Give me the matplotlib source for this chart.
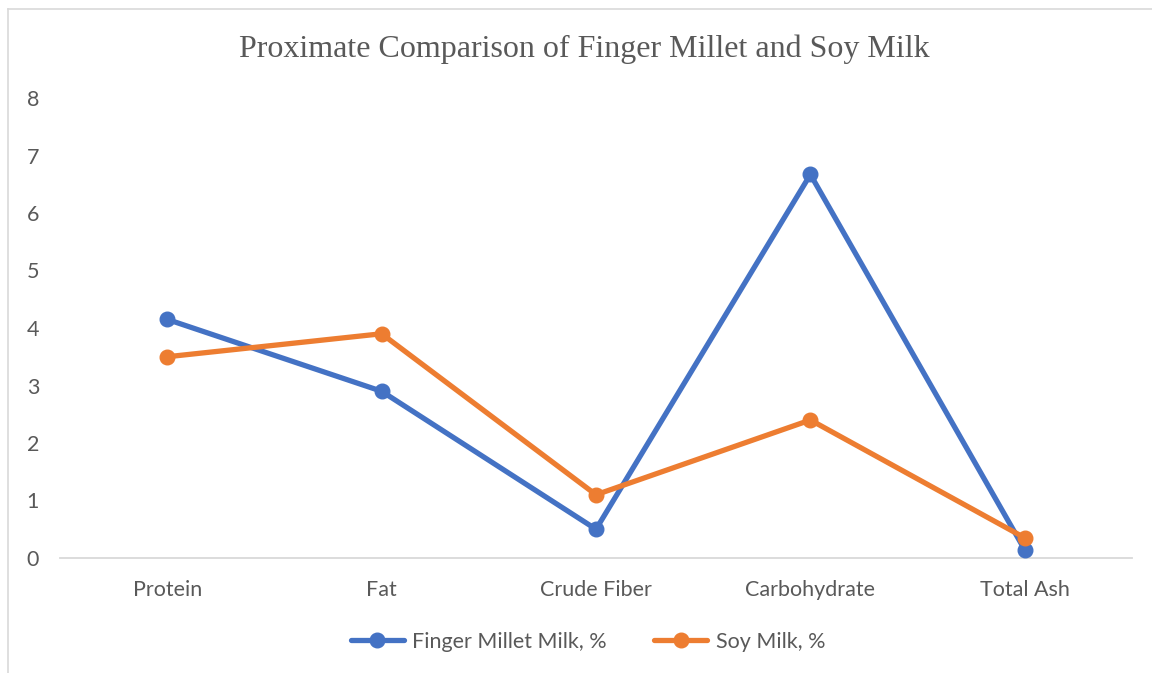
import matplotlib
matplotlib.use("Agg")
import matplotlib.pyplot as plt
from matplotlib.lines import Line2D

categories = ["Protein", "Fat", "Crude Fiber", "Carbohydrate", "Total Ash"]
finger_millet = [4.15, 2.9, 0.5, 6.67, 0.14]
soy_milk = [3.5, 3.9, 1.1, 2.4, 0.35]
y_ticks = [0, 1, 2, 3, 4, 5, 6, 7, 8]

W, H = 1152, 673
fig = plt.figure(figsize=(W / 100, H / 100), dpi=100)
ax = fig.add_axes([60 / W, 1 - 558 / H, (1132 - 60) / W, (558 - 98) / H])

FONT = "Lato"
FS = 15.5
x = list(range(len(categories)))
blue = "#4472C4"
orange = "#ED7D31"
ax.plot(x, finger_millet, color=blue, lw=3.8, marker="o", ms=10.5,
        label="Finger Millet Milk, %", solid_capstyle="round", zorder=3)
ax.plot(x, soy_milk, color=orange, lw=3.8, marker="o", ms=10.5,
        label="Soy Milk, %", solid_capstyle="round", zorder=4)

ax.set_xlim(-0.5, len(categories) - 0.5)
ax.set_ylim(0, 8)
ax.set_yticks(y_ticks)
ax.set_xticks(x)
ax.set_xticklabels(categories)
for s in ["top", "right", "left"]:
    ax.spines[s].set_visible(False)
ax.spines["bottom"].set_color("#d9d9d9")
ax.spines["bottom"].set_linewidth(1.3)
ax.tick_params(axis="both", length=0, labelsize=FS, labelcolor="#595959")
ax.tick_params(axis="x", pad=16)
ax.tick_params(axis="y", pad=15)
for lab in ax.get_xticklabels() + ax.get_yticklabels():
    lab.set_family(FONT)
for lab in ax.get_yticklabels():
    lab.set_horizontalalignment("right")

fig.text(584 / W, 1 - 49 / H, "Proximate Comparison of Finger Millet and Soy Milk",
         ha="center", va="center", fontsize=23, color="#595959",
         family="Liberation Serif")

leg = fig.legend(loc="center", bbox_to_anchor=(588 / W, 1 - 642 / H), ncol=2,
                 frameon=False, handlelength=2.45,
                 columnspacing=2.2, handletextpad=0.4,
                 prop={"family": FONT, "size": FS})
for t in leg.get_texts():
    t.set_color("#595959")

# chart border (left and top)
fig.add_artist(Line2D([8 / W, 8 / W], [0, 1 - 9 / H], transform=fig.transFigure,
                      color="#d9d9d9", lw=1.2))
fig.add_artist(Line2D([8 / W, 1], [1 - 9 / H, 1 - 9 / H], transform=fig.transFigure,
                      color="#d9d9d9", lw=1.2))

fig.savefig("out.png", dpi=100)
